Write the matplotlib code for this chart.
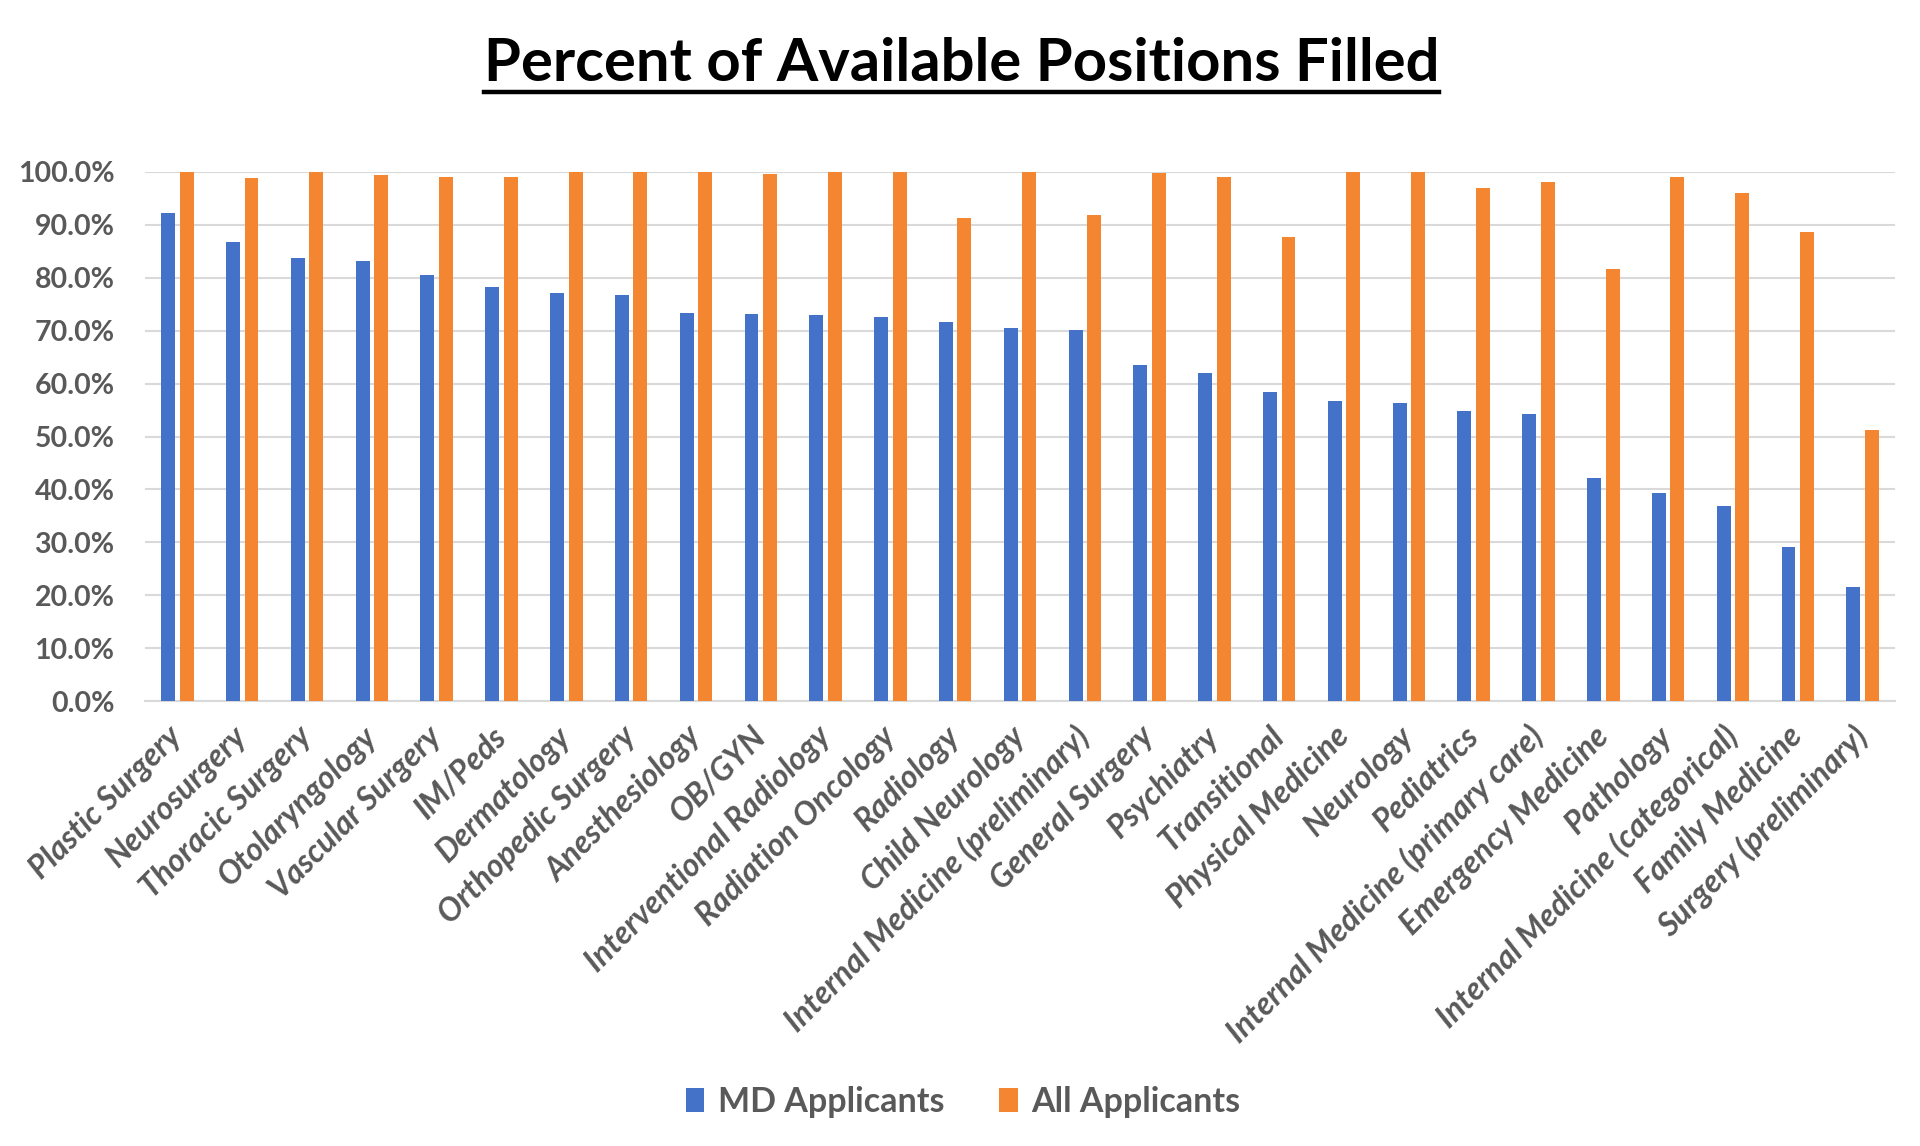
import numpy as np
import matplotlib
matplotlib.use("Agg")
import matplotlib.pyplot as plt
from matplotlib.ticker import PercentFormatter

plt.rcParams['font.family'] = ['Lato', 'DejaVu Sans']

# specialties, in the order shown
specialties = [
    "Plastic Surgery", "Neurosurgery", "Thoracic Surgery", "Otolaryngology",
    "Vascular Surgery", "IM/Peds", "Dermatology", "Orthopedic Surgery",
    "Anesthesiology", "OB/GYN", "Interventional Radiology", "Radiation Oncology",
    "Radiology", "Child Neurology", "Internal Medicine (preliminary)",
    "General Surgery", "Psychiatry", "Transitional", "Physical Medicine",
    "Neurology", "Pediatrics", "Internal Medicine (primary care)",
    "Emergency Medicine", "Pathology", "Internal Medicine (categorical)",
    "Family Medicine", "Surgery (preliminary)",
]

# percent filled, MD applicants only
md_applicants = [
    92.3, 86.7, 83.7, 83.1, 80.6, 78.3, 77.1, 76.8, 73.3, 73.2, 72.9, 72.6,
    71.7, 70.5, 70.2, 63.5, 62.0, 58.4, 56.7, 56.4, 54.8, 54.2, 42.1, 39.4,
    36.8, 29.1, 21.6,
]

# percent filled, all applicants
all_applicants = [
    100.0, 98.8, 100.0, 99.4, 99.0, 99.0, 100.0, 100.0, 100.0, 99.7, 100.0, 100.0,
    91.3, 100.0, 91.9, 99.9, 99.0, 87.7, 100.0, 100.0, 97.0, 98.2, 81.6, 99.0,
    96.1, 88.6, 51.3,
]

blue = "#4472C8"
orange = "#F58631"
grey = "#595959"

fig = plt.figure(figsize=(19.2, 11.46), dpi=100)
ax = fig.add_axes([145 / 1920, 445 / 1146, 1750 / 1920, 529 / 1146])

x = np.arange(len(specialties))
w = 0.215
off = 0.143
ax.bar(x - off, np.array(md_applicants) / 100, w, color=blue, label="MD Applicants", zorder=3)
ax.bar(x + off, np.array(all_applicants) / 100, w, color=orange, label="All Applicants", zorder=3)

ax.set_xlim(-0.5, len(specialties) - 0.5)
ax.set_ylim(0, 1.0)
ax.set_yticks(np.arange(0, 1.01, 0.1))
ax.yaxis.set_major_formatter(PercentFormatter(1.0, decimals=1))
ax.grid(axis="y", color="#D9D9D9", lw=1.5, zorder=0)

for s in ["top", "right", "left"]:
    ax.spines[s].set_visible(False)
ax.spines["bottom"].set_color("#D9D9D9")
ax.spines["bottom"].set_linewidth(1.5)
ax.tick_params(length=0)
ax.tick_params(axis="y", pad=22)

for lab in ax.get_yticklabels():
    lab.set_fontsize(20.5)
    lab.set_fontweight("bold")
    lab.set_color(grey)

ax.set_xticks(x)
ax.set_xticklabels(specialties, rotation=45, ha="right", va="center",
                   rotation_mode="anchor", fontsize=23, fontweight="bold",
                   fontstyle="italic", color=grey)
ax.tick_params(axis="x", pad=22)

title = fig.text(0.5008, 1 - 64 / 1146, "Percent of Available Positions Filled",
                 ha="center", va="center", fontsize=43, fontweight="bold", color="black")

leg = fig.legend(loc="center", bbox_to_anchor=(0.5015, 1 - 1102 / 1146), ncol=2,
                 frameon=False, handlelength=0.55, handleheight=0.7,
                 handletextpad=0.4, columnspacing=1.6,
                 prop={"size": 24.5, "weight": "bold"})
for t in leg.get_texts():
    t.set_color(grey)

# underline under the title
fig.canvas.draw()
bb = title.get_window_extent()
yline = 1 - 92 / 1146
fig.add_artist(plt.Line2D([bb.x0 / 1920, bb.x1 / 1920], [yline, yline],
                          transform=fig.transFigure, color="black", lw=3.2))

fig.savefig("out.png", dpi=100, facecolor="white")
